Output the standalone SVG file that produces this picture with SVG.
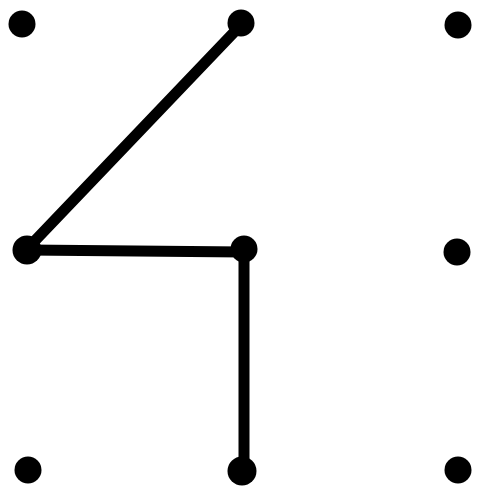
<svg xmlns="http://www.w3.org/2000/svg" width="493" height="493" viewBox="0 0 493 493">
<style>
.dot{fill:#000}
.ln{stroke:#000;stroke-width:11;stroke-linecap:round;fill:none}
</style>
<rect width="493" height="493" fill="#fff"/>
<g id="connectors">
<line class="ln" x1="240" y1="26" x2="27" y2="249"/>
<line class="ln" x1="27" y1="250" x2="244" y2="252"/>
<line class="ln" x1="244" y1="252" x2="244" y2="470"/>
</g>
<g id="n1"><circle class="dot" cx="22" cy="24" r="13.5"/></g>
<g id="n2"><circle class="dot" cx="241" cy="23" r="13.5"/></g>
<g id="n3"><circle class="dot" cx="458" cy="25" r="13.5"/></g>
<g id="n4"><circle class="dot" cx="27" cy="250" r="14.5"/></g>
<g id="n5"><circle class="dot" cx="244" cy="249" r="13.5"/></g>
<g id="n6"><circle class="dot" cx="457" cy="252" r="13.5"/></g>
<g id="n7"><circle class="dot" cx="28" cy="470" r="13.5"/></g>
<g id="n8"><circle class="dot" cx="242" cy="471" r="14.5"/></g>
<g id="n9"><circle class="dot" cx="458" cy="470" r="13.5"/></g>
</svg>
